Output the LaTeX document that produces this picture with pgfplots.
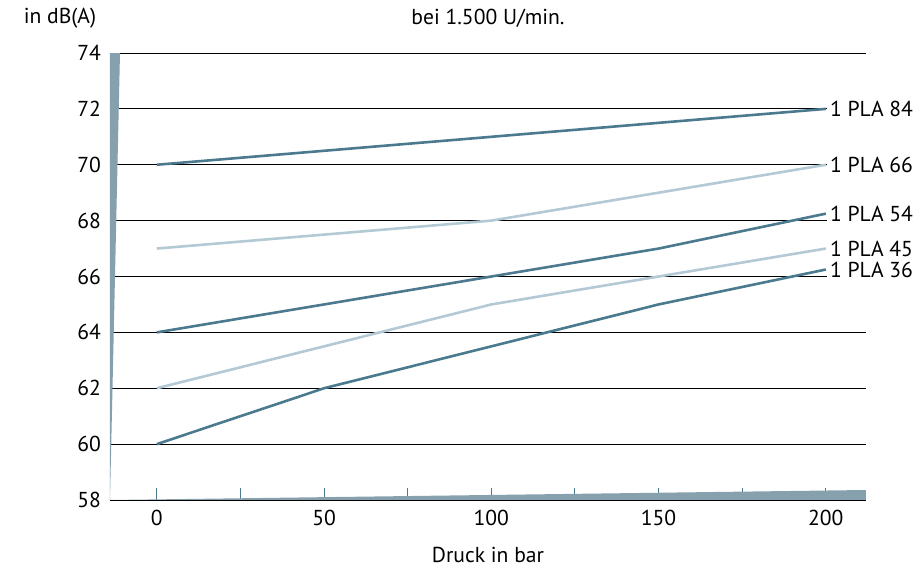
\documentclass[border=0pt]{standalone}
\usepackage{fontspec}
\setmainfont{PT Sans}
\usepackage{pgfplots}
\pgfplotsset{compat=1.18}
\definecolor{wedge}{HTML}{86A0AE}
\definecolor{darkl}{HTML}{4B7A8F}
\definecolor{lightl}{HTML}{B4C9D6}
\tikzset{lbl/.style={anchor=west, fill=white, text=black, inner sep=1.5pt, pos=1}}
\begin{document}
\begin{tikzpicture}[font=\fontsize{10.8}{13}\selectfont]
\begin{axis}[
  scale only axis,
  width=378pt, height=223.5pt,
  xmin=-14, xmax=212, ymin=58, ymax=74,
  xtick={0,50,...,200}, minor xtick={25,75,...,175},
  ytick={58,60,...,74},
  /pgf/number format/assume math mode=true,
  /pgf/number format/1000 sep={},
  axis line style={draw=none},
  xtick pos=bottom, tick align=inside,
  major tick length=6pt, minor tick length=6pt,
  xtick style={darkl, line width=0.5pt},
  ytick style={draw=none},
  ymajorgrids, grid style={black, line width=0.4pt},
  xmajorgrids=false,
  xticklabel style={yshift=-1.5pt},
  yticklabel style={xshift=-1pt},
  clip=false,
  every axis plot/.append style={line width=1.3pt},
  after end axis/.code={
    \fill[wedge] (rel axis cs:0,0) -- (rel axis cs:0,1) -- ([xshift=5pt]rel axis cs:0,1) -- cycle;
    \fill[wedge] (rel axis cs:0,0) -- (rel axis cs:1,0) -- ([yshift=5pt]rel axis cs:1,0) -- cycle;
    \node at ([yshift=17.5pt]rel axis cs:0.5,1) {bei 1.500 U/min.};
    \node at ([xshift=-25pt,yshift=17.5pt]rel axis cs:0,1) {in dB(A)};
    \node at ([yshift=-27.5pt]rel axis cs:0.5,0) {Druck in bar};
    \coordinate (o) at (rel axis cs:0,0);
  },
]
\addplot[darkl] coordinates {(0,70) (50,70.5) (100,71) (150,71.5) (200,72)} node[lbl] {1 PLA 84};
\addplot[lightl] coordinates {(0,67) (100,68) (150,69) (200,70)} node[lbl] {1 PLA 66};
\addplot[darkl] coordinates {(0,64) (50,65) (100,66) (150,67) (200,68.25)} node[lbl] {1 PLA 54};
\addplot[lightl] coordinates {(0,62) (100,65) (150,66) (200,67)} node[lbl] {1 PLA 45};
\addplot[darkl] coordinates {(0,60) (50,62) (150,65) (200,66.25)} node[lbl] {1 PLA 36};
\end{axis}
\pgfresetboundingbox
\useasboundingbox ([xshift=-55pt,yshift=-34pt]o) rectangle ([xshift=406.5pt,yshift=250pt]o);
\end{tikzpicture}
\end{document}
